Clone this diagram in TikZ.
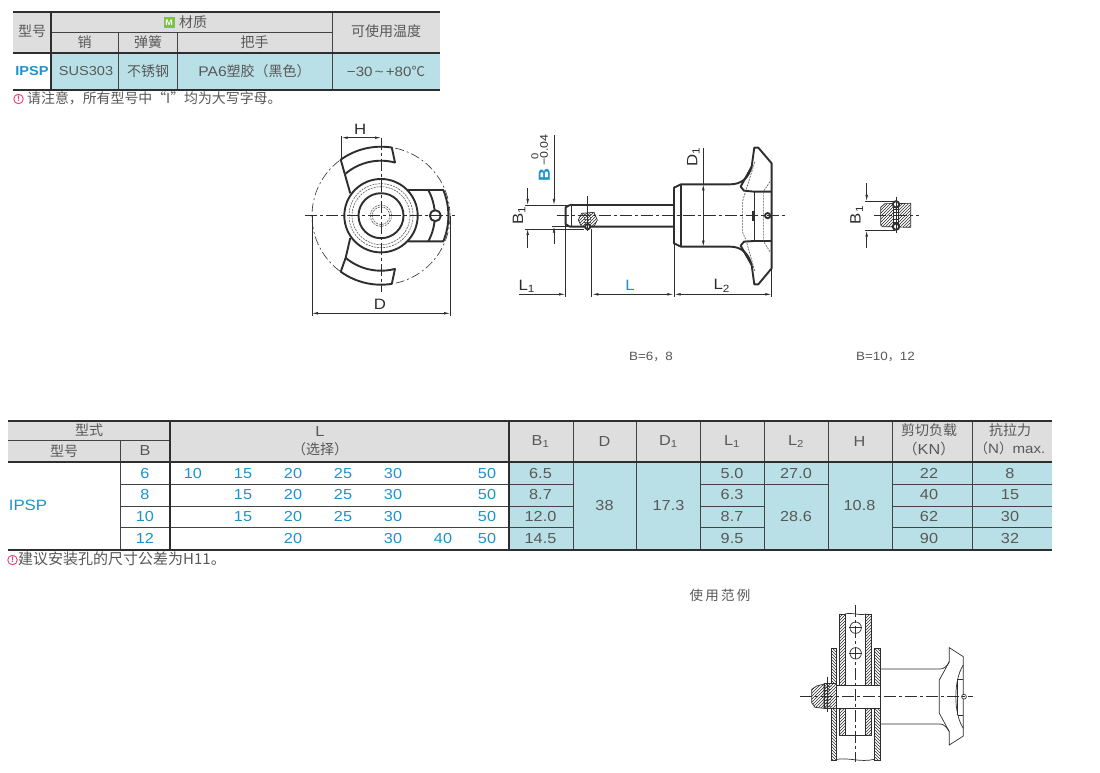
\documentclass[tikz,border=0pt]{standalone}
\usepackage{fontspec}
\setmainfont[FakeStretch=1.12]{Liberation Sans}
\newfontfamily\cjk{Noto Sans CJK SC}
\usetikzlibrary{arrows.meta,patterns}
\definecolor{headcolor}{HTML}{DEDEDE}
\definecolor{tealcolor}{HTML}{B9E0E6}
\definecolor{bluecolor}{HTML}{1B93CE}
\definecolor{inkcolor}{HTML}{2E2E2E}
\definecolor{notecolor}{HTML}{E8407F}
\definecolor{badgecolor}{HTML}{7CC243}
\tikzstyle{cell} = [
    text=inkcolor!80!white,
    font=\fontsize{14.5}{15}\selectfont,
    inner sep=0pt,
    align=center
    ]
\tikzstyle{bluecell} = [
    cell,
    text=bluecolor
    ]
\tikzstyle{zhcell} = [
    cell,
    font=\fontsize{14}{15}\selectfont\cjk
    ]
\tikzstyle{dimlabel} = [
    text=inkcolor,
    font=\fontsize{15}{16}\selectfont,
    inner sep=0pt
    ]
\tikzstyle{notemark} = [
    circle,
    draw=notecolor,
    line width=0.9pt,
    text=notecolor,
    font=\fontsize{8}{8}\selectfont\bfseries,
    inner sep=0pt,
    minimum size=9.5pt
    ]
\tikzstyle{heavyrule} = [draw=inkcolor, line width=1.8pt]
\tikzstyle{thinrule} = [draw=inkcolor!90!white, line width=0.8pt]
\tikzstyle{outline} = [draw=inkcolor, line width=1.9pt, line join=round]
\tikzstyle{fineline} = [draw=inkcolor, line width=0.7pt]
\tikzstyle{hiddenline} = [draw=inkcolor!80!white, line width=0.6pt, dash pattern=on 2pt off 1pt]
\tikzstyle{centerline} = [draw=inkcolor, line width=0.6pt, dash pattern=on 12pt off 3pt on 3pt off 3pt]
\tikzstyle{dimline} = [draw=inkcolor, line width=0.6pt]
\tikzstyle{dimarrow} = [dimline, {Latex[length=6pt,width=2.6pt]}-{Latex[length=6pt,width=2.6pt]}]
\tikzstyle{tipto} = [dimline, -{Latex[length=6pt,width=2.6pt]}]
\tikzstyle{hatched} = [pattern=north east lines, pattern color=inkcolor]
\tikzstyle{hatchedback} = [pattern=north west lines, pattern color=inkcolor]
\begin{document}
\begin{tikzpicture}[x=1pt,y=-1pt]
\useasboundingbox (0,0) rectangle (1100,773);
\fill[white] (0,0) rectangle (1100,773);

% material table
\fill[headcolor] (13,12) rectangle (440,53);
\fill[tealcolor] (51,53) rectangle (440,90);
\draw[thinrule] (51,32.7) -- (332,32.7);
\foreach \x in {118.7,177.3} \draw[thinrule] (\x,32.7) -- (\x,90);
\draw[thinrule] (332,12) -- (332,90);
\draw[heavyrule] (50.7,12) -- (50.7,90);
\foreach \y in {12.3,53,90} \draw[heavyrule] (13,\y) -- (440,\y);
\node[zhcell] (matmodel) at (32,31) {型号};
\node[fill=badgecolor, text=white, font=\fontsize{8}{8}\selectfont\bfseries, inner sep=0pt, minimum size=11pt] (matbadge) at (169,22.5) {M};
\node[zhcell] (mathead) at (193,22.5) {材质};
\node[zhcell] (matpin) at (84.5,42.5) {销};
\node[zhcell] (matspring) at (148,42.5) {弹簧};
\node[zhcell] (mathandle) at (254.5,42.5) {把手};
\node[zhcell] (mattemp) at (386,31) {可使用温度};
\node[bluecell, font=\fontsize{13}{15}\selectfont\bfseries] (matname) at (32,71) {IPSP};
\node[cell, font=\fontsize{13}{15}\selectfont] (matsus) at (86,71) {SUS303};
\node[zhcell] (matsteel) at (148,71) {不锈钢};
\node[cell, font=\fontsize{14}{15}\selectfont] (matpa) at (254.5,71) {PA6{\cjk 塑胶（黑色）}};
\node[cell, font=\fontsize{13.5}{15}\selectfont] (mattempval) at (386,71) {−30\,\textasciitilde\,+80{\cjk ℃}};
\node[notemark] (matnote) at (18.5,99) {!};
\node[zhcell, anchor=west, font=\fontsize{13.9}{15}\selectfont\cjk] (matnotetext) at (27,98.5) {请注意，所有型号中“I”均为大写字母。};

% front view
\begin{scope}[shift={(381,215.7)}]
\draw[dimline, dash pattern=on 9pt off 3pt on 2pt off 3pt] (0,0) circle[radius=69pt];
\draw[outline] (144:38pt) -- (125.7:69pt) arc[start angle=125.7,end angle=81,radius=69pt] -- (75:54.5pt);
\draw[outline] (130:55pt) arc[start angle=130,end angle=75,radius=55pt];
\draw[outline] (-144:38pt) -- (-130:55pt) -- (-125.7:69pt) arc[start angle=-125.7,end angle=-81,radius=69pt] -- (-75:54.5pt);
\draw[outline] (-130:55pt) arc[start angle=-130,end angle=-75,radius=55pt];
\draw[outline] (27,-25.7) -- (62.3,-25.7) arc[start angle=22.4,end angle=-22.4,radius=67.4pt] -- (27,25.7);
\draw[outline] (47.3,-25.7) arc[start angle=28.5,end angle=-28.5,radius=53.8pt];
\draw[outline, fill=white] (0,0) circle[radius=36.7pt];
\foreach \r in {32,29,10.7,8.8} \draw[hiddenline] (0,0) circle[radius=\r pt];
\draw[outline] (0,0) circle[radius=22.5pt];
\draw[outline, fill=white] (54.3,0) circle[radius=5.5pt];
\draw[centerline] (-76,0) -- (74,0);
\draw[centerline] (0,-78) -- (0,76);
\end{scope}
\coordinate (hleft) at (341.7,137.7);
\coordinate (hright) at (381,137.7);
\coordinate (dleft) at (312,313.3);
\coordinate (dright) at (450,313.3);
\draw[dimline] (341.7,136) -- (341.7,160);
\draw[dimarrow] (hleft) -- (hright);
\draw[dimline] (312,215.7) -- (312,316);
\draw[dimline] (450,215.7) -- (450,316);
\draw[dimarrow] (dleft) -- (dright);
\node[dimlabel] (hlabel) at (360.3,129) {H};
\node[dimlabel] (dlabel) at (380,304) {D};

% side view, values read off at three times the size
\begin{scope}[shift={(500,125)},x=0.3333pt,y=-0.3333pt]
\draw[outline] (210,240) -- (197,247) -- (197,298) -- (210,305) -- (522,305);
\draw[outline] (210,240) -- (522,240);
\draw[fineline] (215,240) -- (215,305);
\draw[outline] (522,188) -- (543,178) -- (690,178) .. controls (725,178) and (745,160) .. (755,125) -- (763,68) -- (775,68) -- (815,115) -- (815,430) -- (775,478) -- (763,478) -- (755,420) .. controls (745,385) and (725,365) .. (690,365) -- (543,365) -- (522,355) -- cycle;
\draw[outline] (543,178) -- (543,365);
\draw[outline] (755,125) -- (722,185) -- (732,197) -- (762,200) -- (815,200);
\draw[outline] (755,420) -- (722,362) -- (732,350) -- (762,348) -- (815,348);
\draw[fineline] (762,200) -- (762,348);
\draw[hiddenline] (765,110) -- (735,205) -- (728,228) -- (728,322) -- (738,345) -- (765,440);
\draw[hiddenline] (810,170) -- (790,200) -- (790,348) -- (810,380);
\draw[outline] (760,258) -- (760,288);
\draw[outline, fill=white] (803,272) circle[radius=2.6pt];
\draw[hatched, fineline] (235,285) -- (245,265) -- (282,262) -- (292,285) -- (282,305) -- (245,305) -- cycle;
\draw[outline, fill=white] (263,305) circle[radius=2.6pt];
\foreach \y in {268,276,284,292} \draw[hiddenline] (253,\y) -- (273,\y);
\draw[fineline] (263,212) -- (263,318);
\draw[centerline] (170,272) -- (855,272);
% dimension lines
\draw[dimline] (75,240) -- (210,240);
\draw[dimline] (75,312) -- (252,312);
\draw[dimline] (155,305) -- (210,305);
\coordinate (bonetop) at (83,240);
\coordinate (bonestart) at (83,190);
\coordinate (bonebot) at (83,312);
\coordinate (boneend) at (83,368);
\draw[tipto] (bonestart) -- (bonetop);
\draw[tipto] (boneend) -- (bonebot);
\coordinate (btop) at (162,240);
\coordinate (bstart) at (162,30);
\coordinate (bbot) at (162,305);
\coordinate (bend) at (162,358);
\draw[tipto] (bstart) -- (btop);
\draw[tipto] (bend) -- (bbot);
\draw[dimline] (197,298) -- (197,515);
\draw[dimline] (275,312) -- (275,515);
\draw[dimline] (522,355) -- (522,515);
\draw[dimline] (815,430) -- (815,515);
\coordinate (lonestart) at (58,508);
\coordinate (loneend) at (195,508);
\coordinate (lstart) at (277,508);
\coordinate (lend) at (520,508);
\coordinate (ltwostart) at (524,508);
\coordinate (ltwoend) at (814,508);
\draw[tipto] (lonestart) -- (loneend);
\draw[dimarrow] (lstart) -- (lend);
\draw[dimarrow] (ltwostart) -- (ltwoend);
\coordinate (donetop) at (610,178);
\coordinate (donebot) at (610,365);
\coordinate (donestart) at (610,68);
\draw[dimline] (donestart) -- (donetop);
\draw[dimarrow] (donetop) -- (donebot);
\end{scope}
\node[dimlabel, rotate=90] (boneside) at (519,215.7) {B\textsubscript{1}};
\node[dimlabel, rotate=90, text=bluecolor, font=\fontsize{16}{16}\selectfont\bfseries] (bside) at (544.3,175) {B};
\node[dimlabel, rotate=90, font=\fontsize{10}{10}\selectfont] (bupper) at (535,156.7) {0};
\node[dimlabel, rotate=90, font=\fontsize{11}{11}\selectfont] (blower) at (544,150) {−0.04};
\node[dimlabel] (loneside) at (526.7,286) {L\textsubscript{1}};
\node[dimlabel, text=bluecolor] (lside) at (630,285) {L};
\node[dimlabel] (ltwoside) at (721.7,286) {L\textsubscript{2}};
\node[dimlabel, rotate=90] (doneside) at (693.3,156.7) {D\textsubscript{1}};
\node[cell, font=\fontsize{12}{13}\selectfont] (bsmall) at (651,357) {B=6{\cjk ，}8};
\node[cell, font=\fontsize{12}{13}\selectfont] (blarge) at (885.5,357) {B=10{\cjk ，}12};

% small section
\begin{scope}[shift={(840,170)},x=0.3333pt,y=-0.3333pt]
\draw[hatched, fineline] (135,101) -- (212,100) -- (212,172) -- (128,170) -- (122,165) -- (122,112) -- cycle;
\fill[white] (160,105) rectangle (176,170);
\foreach \y in {117,127,137,147,157} \draw[fineline] (160,\y) -- (176,\y);
\draw[fineline] (160,105) -- (160,170);
\draw[fineline] (176,105) -- (176,170);
\draw[outline, fill=white] (168,103) circle[radius=3.2pt];
\draw[outline, fill=white] (168,170) circle[radius=3.2pt];
\draw[dimline] (168,80) -- (168,190);
\draw[centerline] (102,137) -- (237,137);
\draw[dimline] (75,93) -- (165,93);
\draw[dimline] (75,182) -- (165,182);
\coordinate (sbtop) at (80,93);
\coordinate (sbstart) at (80,40);
\coordinate (sbbot) at (80,182);
\coordinate (sbend) at (80,235);
\draw[tipto] (sbstart) -- (sbtop);
\draw[tipto] (sbend) -- (sbbot);
\end{scope}
\node[dimlabel, rotate=90] (bonesmall) at (856.7,215) {B\textsubscript{1}};

% size table
\fill[headcolor] (8,421) rectangle (1052,462);
\fill[tealcolor] (509,462) rectangle (1052,550);
\draw[thinrule] (8,440.3) -- (170,440.3);
\draw[thinrule] (120,440.3) -- (120,550);
\foreach \x in {573,636.8,700,764,828,892,972} \draw[thinrule] (\x,421) -- (\x,550);
\foreach \y in {484.3,506,527.7} {
    \draw[thinrule] (120,\y) -- (573,\y);
    \draw[thinrule] (700,\y) -- (764,\y);
    \draw[thinrule] (892,\y) -- (1052,\y);
}
\draw[thinrule] (764,484.3) -- (828,484.3);
\foreach \x in {170,509} \draw[heavyrule] (\x,421) -- (\x,550);
\foreach \y in {421,462.3,549.7} \draw[heavyrule] (8,\y) -- (1052,\y);
\node[zhcell] (sizetype) at (89,430.5) {型式};
\node[zhcell] (sizemodel) at (64,451) {型号};
\node[cell] (sizeb) at (145,451) {B};
\node[cell] (sizel) at (320,431.5) {L};
\node[zhcell] (sizechoice) at (320,449.5) {（选择）};
\node[cell] (sizebone) at (540.5,441.5) {B\textsubscript{1}};
\node[cell] (sized) at (604.5,441.5) {D};
\node[cell] (sizedone) at (668.5,441.5) {D\textsubscript{1}};
\node[cell] (sizelone) at (732,441.5) {L\textsubscript{1}};
\node[cell] (sizeltwo) at (796,441.5) {L\textsubscript{2}};
\node[cell] (sizeh) at (859.5,441.5) {H};
\node[zhcell] (sizeshear) at (929,430) {剪切负载};
\node[cell] (sizekn) at (929,448.5) {{\cjk（}KN{\cjk ）}};
\node[zhcell] (sizepull) at (1010,430) {抗拉力};
\node[cell, font=\fontsize{13.5}{15}\selectfont] (sizen) at (1010,448.5) {{\cjk（}N{\cjk ）}max.};
\node[cell, text=bluecolor, font=\fontsize{15}{15}\selectfont] (sizename) at (28,505) {IPSP};
\foreach \b/\y/\bone/\lone/\shear/\pull/\vals in {
    6/473.3/6.5/5.0/22/8/{193/10,243/15,293/20,343/25,393/30,487/50},
    8/495/8.7/6.3/40/15/{243/15,293/20,343/25,393/30,487/50},
    10/516.5/12.0/8.7/62/30/{243/15,293/20,343/25,393/30,487/50},
    12/538.5/14.5/9.5/90/32/{293/20,393/30,443/40,487/50}} {
    \node[bluecell] (b\b) at (145,\y) {\b};
    \foreach \x/\v in \vals \node[bluecell] (l\b-\v) at (\x,\y) {\v};
    \node[cell] (bone\b) at (540.5,\y) {\bone};
    \node[cell] (lone\b) at (732,\y) {\lone};
    \node[cell] (shear\b) at (929,\y) {\shear};
    \node[cell] (pull\b) at (1010,\y) {\pull};
}
\node[cell] (dval) at (604.5,506) {38};
\node[cell] (doneval) at (668.5,506) {17.3};
\node[cell] (ltwofirst) at (796,473.3) {27.0};
\node[cell] (ltworest) at (796,516.5) {28.6};
\node[cell] (hval) at (859.5,506) {10.8};
\node[notemark] (sizenote) at (12.5,560) {!};
\node[zhcell, anchor=west, font=\fontsize{15}{15}\selectfont\cjk] (sizenotetext) at (18,559) {建议安装孔的尺寸公差为H11。};

% usage example
\node[zhcell, font=\fontsize{13.5}{15}\selectfont\cjk] (usetitle) at (720,595) {使\,用\,范\,例};
\begin{scope}[shift={(790,600)},x=0.3333pt,y=-0.3333pt]
\draw[fineline, hatchedback] (123,145) rectangle (140,480);
\draw[fineline, hatchedback] (253,145) rectangle (270,480);
\draw[fineline, hatched] (148,42) rectangle (165,405);
\draw[fineline, hatched] (227,42) rectangle (245,405);
\draw[fineline] (165,42) .. controls (190,36) and (205,48) .. (227,42);
\draw[fineline] (165,405) -- (227,405);
\draw[fineline] (140,478) .. controls (180,472) and (210,488) .. (253,478);
\draw[fineline, fill=white] (140,255) rectangle (270,325);
\draw[fineline, fill=white] (197,83) circle[radius=5.7pt];
\draw[fineline, fill=white] (197,160) circle[radius=5.7pt];
\draw[dimline] (178,83) -- (216,83);
\draw[dimline] (178,160) -- (216,160);
\draw[fineline, hatched] (65,268) -- (80,258) -- (102,252) -- (102,325) -- (75,322) -- (65,308) -- cycle;
\draw[fineline, fill=white] (102,250) rectangle (140,325);
\draw[fineline, hatched] (102,250) rectangle (140,325);
\foreach \y in {258,268,278,288,298,308,318} \draw[fineline] (105,\y+4) -- (122,\y);
\draw[dimline] (113,230) -- (113,335);
\draw[fineline] (270,207) -- (450,207) .. controls (462,207) and (470,200) .. (478,185) -- (478,143) -- (520,170) -- (520,408) -- (478,435) -- (478,395) .. controls (470,382) and (462,372) .. (450,372) -- (270,372);
\draw[fineline] (478,185) -- (448,240) -- (448,340) -- (478,395);
\draw[fineline] (520,195) .. controls (490,240) and (490,340) .. (520,385);
\draw[fineline] (503,238) -- (520,238);
\draw[fineline] (503,345) -- (520,345);
\draw[fineline] (503,238) -- (503,345);
\draw[fineline, fill=white] (522,290) circle[radius=2.4pt];
\draw[centerline] (30,290) -- (550,290);
\draw[centerline] (197,15) -- (197,485);
\end{scope}
\end{tikzpicture}
\end{document}
